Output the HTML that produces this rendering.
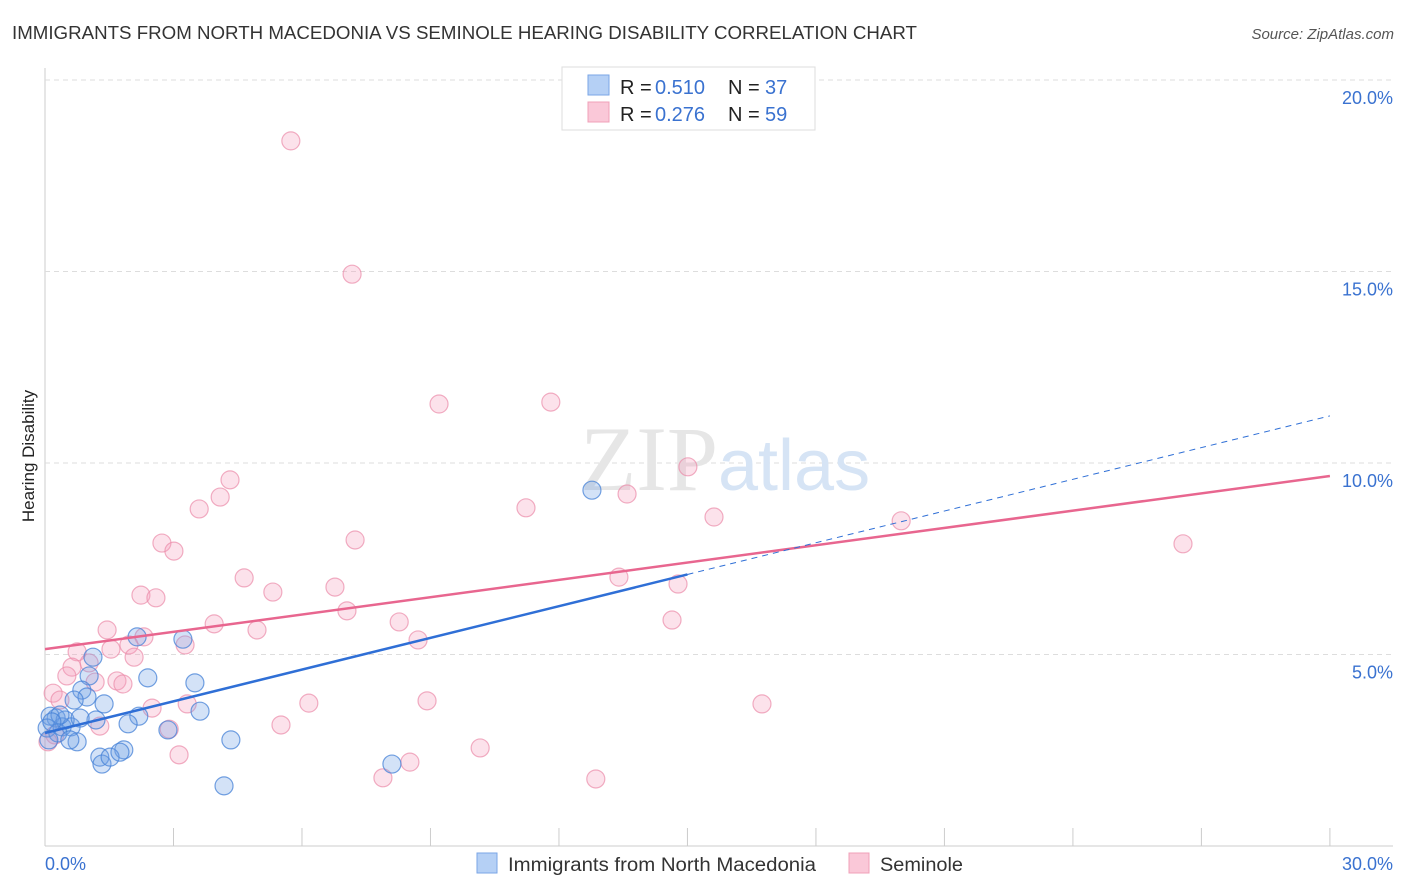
<!DOCTYPE html>
<html><head><meta charset="utf-8"><style>
body{margin:0;background:#fff;font-family:"Liberation Sans",sans-serif;}
#wrap{position:relative;width:1406px;height:892px;overflow:hidden;}
</style></head><body>
<div id="wrap">
<svg id="chart" width="1406" height="892" style="position:absolute;left:0;top:0;font-family:'Liberation Sans',sans-serif">
<text x="12" y="39" font-size="18" fill="#333" textLength="905" lengthAdjust="spacingAndGlyphs">IMMIGRANTS FROM NORTH MACEDONIA VS SEMINOLE HEARING DISABILITY CORRELATION CHART</text>
<text x="1394" y="39" font-size="15" fill="#555" font-style="italic" text-anchor="end">Source: ZipAtlas.com</text>
<text x="34" y="456" font-size="17" fill="#222" transform="rotate(-90 34 456)" text-anchor="middle">Hearing Disability</text>
<g id="grid"></g>
<text x="718" y="490" font-size="92" fill="#e6e6e6" text-anchor="end" font-family="Liberation Serif,serif">ZIP</text>
<text x="718" y="490" font-size="72" fill="#d6e4f5">atlas</text>
<g id="pts"></g>
<g id="lines"></g>
<g>
<rect x="562" y="67" width="253" height="63" fill="#fff" stroke="#ddd"/>
<rect x="588" y="75" width="21" height="20" fill="#b5d0f5" stroke="#7aa6e6"/>
<rect x="588" y="102" width="21" height="20" fill="#fac8d8" stroke="#f0a0b8"/>
<text x="620" y="94" font-size="20" fill="#222">R =</text>
<text x="655" y="94" font-size="20" fill="#3a72d0">0.510</text>
<text x="728" y="94" font-size="20" fill="#222">N =</text>
<text x="765" y="94" font-size="20" fill="#3a72d0">37</text>
<text x="620" y="121" font-size="20" fill="#222">R =</text>
<text x="655" y="121" font-size="20" fill="#3a72d0">0.276</text>
<text x="728" y="121" font-size="20" fill="#222">N =</text>
<text x="765" y="121" font-size="20" fill="#3a72d0">59</text>
</g>
<g>
<rect x="477" y="853" width="20" height="20" fill="#b5d0f5" stroke="#7aa6e6"/>
<text x="508" y="871" font-size="19" fill="#333" textLength="308" lengthAdjust="spacingAndGlyphs">Immigrants from North Macedonia</text>
<rect x="849" y="853" width="20" height="20" fill="#fac8d8" stroke="#f0a0b8"/>
<text x="880" y="871" font-size="19" fill="#333" textLength="83" lengthAdjust="spacingAndGlyphs">Seminole</text>
</g>
</svg>
</div>
<script>
const blueX=[12.77,3.22,2.15,1.12,2.40,3.50,1.03,0.86,0.98,1.38,0.68,3.62,2.19,1.19,1.94,2.87,0.26,0.12,0.05,0.40,0.61,0.30,0.75,0.09,4.34,1.84,1.28,1.33,1.52,1.75,4.18,8.10,0.47,0.82,0.35,0.16,0.58];
const blueY=[9.29,5.40,5.46,4.93,4.39,4.26,4.44,4.07,3.89,3.71,3.81,3.52,3.39,3.29,3.19,3.03,3.34,3.39,3.08,3.11,3.11,2.95,2.72,2.77,2.77,2.51,2.32,2.14,2.32,2.45,1.57,2.14,3.29,3.34,3.42,3.24,2.77];
const pinkX=[5.74,7.17,9.20,11.81,4.32,4.09,3.60,11.23,15.01,13.59,15.62,19.99,26.57,2.73,3.01,7.24,4.65,13.40,14.78,2.24,2.59,5.32,6.77,7.05,14.64,8.27,3.95,4.95,1.45,2.31,3.27,1.96,8.71,1.54,0.75,2.08,1.03,0.63,0.51,1.17,1.68,1.82,0.19,0.35,6.16,3.32,2.50,8.92,16.74,5.51,2.90,1.28,0.23,3.13,10.16,8.52,7.89,12.86,0.07];
const pinkY=[18.41,14.93,11.54,11.59,9.56,9.11,8.80,8.83,9.90,9.19,8.59,8.49,7.89,7.91,7.70,7.99,7.00,7.02,6.84,6.55,6.48,6.63,6.76,6.14,5.90,5.85,5.80,5.64,5.64,5.46,5.25,5.25,5.38,5.14,5.07,4.93,4.78,4.67,4.44,4.28,4.31,4.23,3.99,3.81,3.73,3.71,3.60,3.79,3.71,3.16,3.05,3.13,2.90,2.38,2.56,2.19,1.78,1.75,2.72];
const yTicks=[5,10,15,20];
const xTicks=[0,3,6,9,12,15,18,21,24,27,30];
const blueTrend=[2.95,11.23];
const blueSolidEnd=15;
const pinkTrend=[5.14,9.66];
const NS='http://www.w3.org/2000/svg';
const sx=v=>45+v*42.83, sy=v=>846-v*38.3;
function mk(t,a,p){const e=document.createElementNS(NS,t);for(const k in a)e.setAttribute(k,a[k]);p.appendChild(e);return e;}
const grid=document.getElementById('grid');
mk('line',{x1:45,y1:68,x2:45,y2:846,stroke:'#ccc'},grid);
mk('line',{x1:45,y1:846,x2:1393,y2:846,stroke:'#ccc'},grid);
mk('line',{x1:45,y1:80,x2:1393,y2:80,stroke:'#ddd','stroke-dasharray':'5,4'},grid);
yTicks.forEach(t=>{
  const l=mk('line',{x1:45,y1:sy(t),x2:1393,y2:sy(t),stroke:'#ddd','stroke-dasharray':'5,4'},grid);
  
  
  const tx=mk('text',{x:1393,y:sy(t)+24,'font-size':18,fill:'#3a72d0','text-anchor':'end'},grid);
  tx.textContent=t.toFixed(1)+'%';
  
  
});
xTicks.forEach(t=>{
  const l=mk('line',{x1:sx(t),y1:828,x2:sx(t),y2:846,stroke:'#ccc'},grid);
  
  
});
[[0,'start',45],[30,'end',1393]].forEach(([t,a,x])=>{
  const tx=mk('text',{x:x,y:870,'font-size':18,fill:'#3a72d0','text-anchor':a},grid);
  tx.textContent=t.toFixed(1)+'%';
  
  
});
const pts=document.getElementById('pts');
pinkX.forEach((x,i)=>{
  const c=mk('circle',{cx:sx(x),cy:sy(pinkY[i]),r:9,fill:'rgba(245,160,190,0.3)',stroke:'rgba(235,140,170,0.7)','stroke-width':1.2},pts);
  
  
});
blueX.forEach((x,i)=>{
  const c=mk('circle',{cx:sx(x),cy:sy(blueY[i]),r:9,fill:'rgba(110,160,230,0.3)',stroke:'rgba(70,130,215,0.75)','stroke-width':1.2},pts);
  
  
});
const lines=document.getElementById('lines');
const bAt=x=>blueTrend[0]+(blueTrend[1]-blueTrend[0])*x/30;
const pl=mk('line',{x1:sx(0),y1:sy(pinkTrend[0]),x2:sx(30),y2:sy(pinkTrend[1]),stroke:'#e8668f','stroke-width':2.5},lines);


const bl=mk('line',{x1:sx(0),y1:sy(bAt(0)),x2:sx(blueSolidEnd),y2:sy(bAt(blueSolidEnd)),stroke:'#2f6fd6','stroke-width':2.5},lines);


const bd=mk('line',{x1:sx(blueSolidEnd),y1:sy(bAt(blueSolidEnd)),x2:sx(30),y2:sy(bAt(30)),stroke:'#2f6fd6','stroke-width':1,'stroke-dasharray':'6,5'},lines);


</script>
</body></html>
